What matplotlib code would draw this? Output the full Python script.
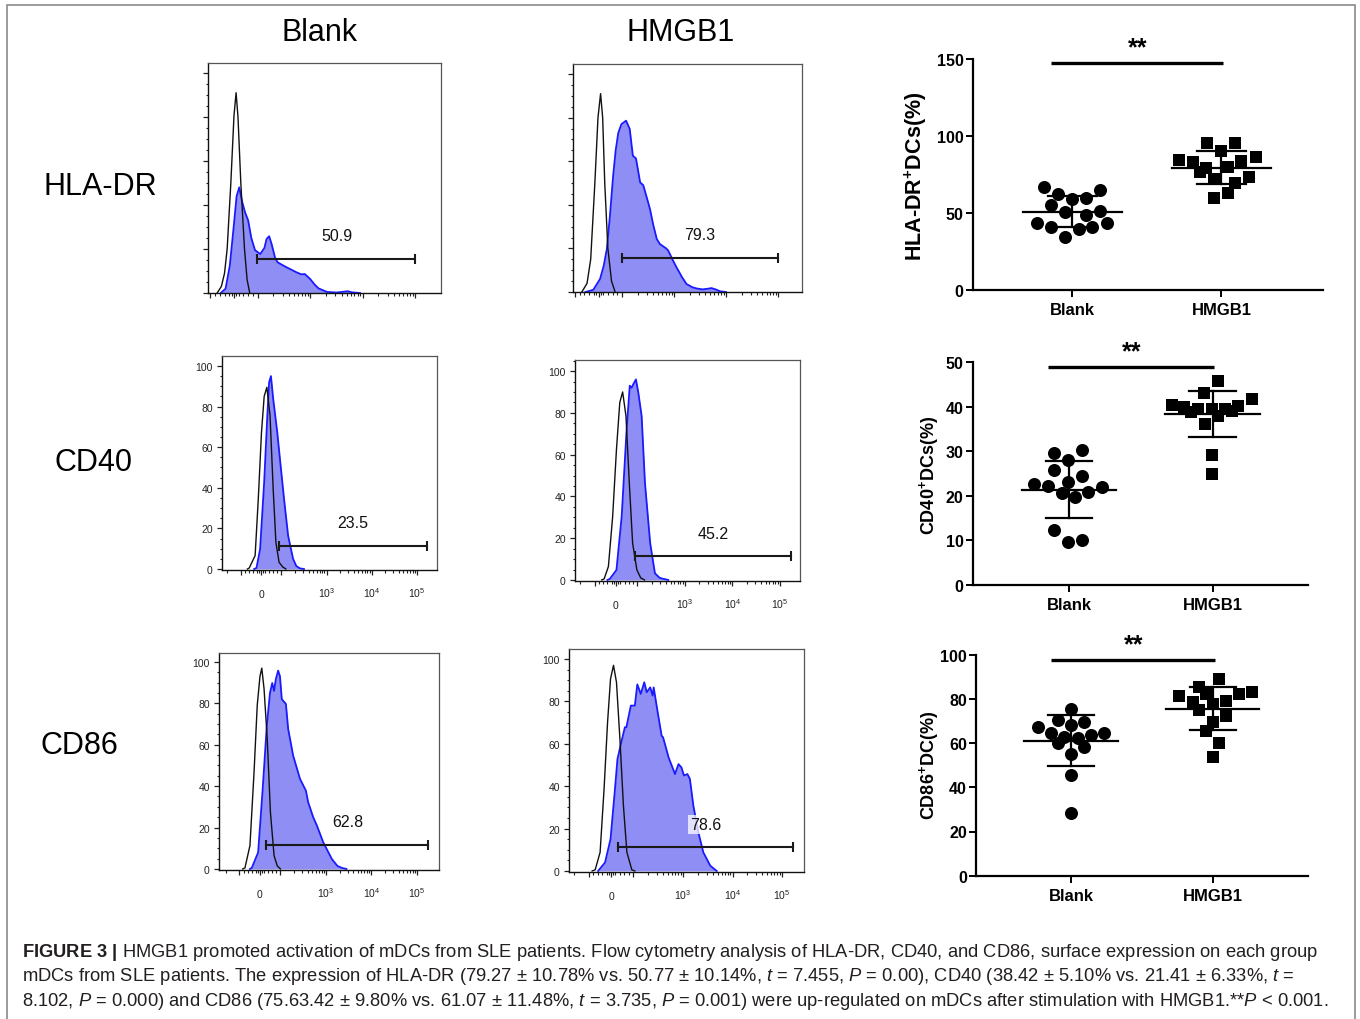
import numpy as np
import matplotlib
matplotlib.use("Agg")
import matplotlib.pyplot as plt
from matplotlib.patches import Rectangle
from matplotlib.transforms import offset_copy

plt.rcParams['font.family'] = ['Liberation Sans', 'DejaVu Sans']
plt.rcParams['mathtext.fontset'] = 'custom'
plt.rcParams['mathtext.rm'] = 'Liberation Sans'
plt.rcParams['mathtext.it'] = 'Liberation Sans:italic'
plt.rcParams['mathtext.bf'] = 'Liberation Sans:bold'

# ---------------- data: flow cytometry histograms (display channel u, % of max) -------------
# HLA-DR
hla_blank_iso_u = [-0.32, -0.24, -0.18, -0.13, -0.06, 0.0, 0.04, 0.076, 0.13, 0.2, 0.25, 0.3]
hla_blank_iso_y = [0, 3, 9, 20, 50, 80.6, 91, 80, 50, 20, 6, 0]
hla_blank_st_u = [-0.25, -0.16, -0.08, -0.01, 0.05, 0.10, 0.15, 0.21, 0.27, 0.33, 0.40, 0.50,
                  0.58, 0.62, 0.67, 0.72, 0.78, 0.83, 0.9, 1.0, 1.1, 1.19, 1.28, 1.35, 1.40, 1.45,
                  1.53, 1.61, 1.77, 1.95, 2.1, 2.17, 2.25, 2.4]
hla_blank_st_y = [0, 2, 12.4, 29, 44, 48, 42, 36.7, 33, 25, 19.5, 17.7,
                  20.5, 24.5, 25.8, 22, 16.2, 14, 13, 11.7, 10.5, 9.4, 8.5, 8.6, 7.5, 6.4,
                  4, 2.1, 0.5, 0.2, 0.6, 0.8, 0.3, 0]
hla_hmgb_iso_u = [-0.32, -0.22, -0.15, -0.07, -0.01, 0.04, 0.08, 0.12, 0.18, 0.25, 0.32]
hla_hmgb_iso_y = [0, 4, 15, 50, 80, 91, 80, 50, 20, 5, 0]
hla_hmgb_st_u = [-0.25, -0.1, 0.03, 0.1, 0.16, 0.22, 0.28, 0.33, 0.38, 0.44, 0.53, 0.60, 0.66,
                 0.72, 0.80, 0.86, 0.92, 0.99, 1.05, 1.12, 1.18, 1.24, 1.30, 1.34, 1.42, 1.50,
                 1.60, 1.69, 1.80, 1.89, 2.0, 2.1, 2.17, 2.25, 2.34, 2.45]
hla_hmgb_st_y = [0, 1, 6, 12, 19.7, 35, 53, 65, 73, 77, 78.6, 74.8, 62.5,
                 61.3, 50.3, 49, 44, 38, 31, 24.3, 22, 21, 20, 19, 15, 11.3,
                 7, 3.7, 2.2, 1.6, 1.2, 1.5, 1.8, 1.2, 0.3, 0]
# CD40
cd40_blank_iso_u = [-0.30, -0.26, -0.13, -0.06, 0.01, 0.07, 0.13, 0.20, 0.27, 0.33, 0.40, 0.48, 0.55]
cd40_blank_iso_y = [0, 0.5, 6.6, 34.5, 67, 85, 89.5, 75.5, 39, 13, 3.3, 1, 0]
cd40_blank_st_u = [-0.15, -0.1, -0.02, 0.07, 0.14, 0.18, 0.22, 0.27, 0.36, 0.42, 0.51, 0.60,
                   0.71, 0.78, 0.86, 0.95]
cd40_blank_st_y = [0, 0.5, 9.8, 42.7, 75.5, 92, 95, 83.7, 67.3, 54, 34.5, 16.4, 5, 1.5, 0.3, 0]
cd40_hmgb_iso_u = [-0.30, -0.25, -0.16, -0.07, 0.01, 0.08, 0.14, 0.21, 0.28, 0.35, 0.44, 0.52, 0.60]
cd40_hmgb_iso_y = [0, 0.5, 6.4, 30.4, 62.5, 85, 90, 78.5, 46.5, 17.6, 4.8, 1, 0]
cd40_hmgb_st_u = [-0.18, -0.13, 0.01, 0.12, 0.22, 0.29, 0.33, 0.36, 0.42, 0.47, 0.54, 0.61,
                  0.72, 0.82, 0.92, 1.0, 1.1]
cd40_hmgb_st_y = [0, 0.5, 4.8, 30.4, 70.5, 93, 92, 93.5, 96, 89.7, 78.5, 46.5, 17.6, 3.2, 1, 0.5, 0]
# CD86
cd86_blank_iso_u = [-0.38, -0.33, -0.22, -0.13, -0.06, 0.0, 0.04, 0.09, 0.16, 0.23, 0.31, 0.38, 0.45]
cd86_blank_iso_y = [0, 0.5, 11.3, 46.7, 79, 93, 97, 87, 62.8, 27.4, 6.4, 1.5, 0]
cd86_blank_st_u = [-0.22, -0.18, -0.04, 0.06, 0.15, 0.22, 0.27, 0.31, 0.35, 0.40, 0.44, 0.48,
                   0.57, 0.62, 0.73, 0.88, 1.01, 1.06, 1.17, 1.25, 1.39, 1.58, 1.70, 1.80, 1.9]
cd86_blank_st_y = [0, 0.5, 8, 38.6, 69, 85, 89.8, 86, 91.8, 95.8, 93, 82,
                   79.7, 67.6, 54.7, 43.5, 37.8, 32.2, 25, 21, 12.9, 4.8, 1.5, 0.5, 0]
cd86_hmgb_iso_u = [-0.38, -0.32, -0.22, -0.14, -0.07, -0.01, 0.05, 0.11, 0.18, 0.25, 0.32, 0.42, 0.48]
cd86_hmgb_iso_y = [0, 0.5, 8.8, 38.7, 70, 90.6, 97, 89, 62, 30.8, 8.8, 0.5, 0]
cd86_hmgb_st_u = [-0.26, -0.12, -0.01, 0.08, 0.13, 0.22, 0.28, 0.31, 0.40, 0.48, 0.53, 0.60,
                  0.67, 0.72, 0.79, 0.84, 0.86, 0.93, 1.02, 1.05, 1.16, 1.29, 1.36, 1.42,
                  1.47, 1.54, 1.59, 1.66, 1.76, 1.86, 2.0, 2.13]
cd86_hmgb_st_y = [0, 4, 15, 38.7, 52.8, 62, 67.8, 67.8, 78, 78, 88, 83.5,
                  89, 84.3, 86.6, 82.7, 86.6, 76.4, 63.8, 63, 53.6, 45.7, 50.4, 48.8,
                  45, 45.7, 43.4, 30.8, 18.3, 8.8, 2.5, 0]

# gates: start u, end u, height, label, label u, label height
hla_blank_gate = (0.44, 3.45, 15.5, "50.9", 1.96, 26.0)
hla_hmgb_gate = (0.45, 3.45, 15.5, "79.3", 1.95, 26.6)
cd40_blank_gate = (0.40, 3.67, 11.5, "23.5", 2.04, 22.7)
cd40_hmgb_gate = (0.40, 3.68, 11.5, "45.2", 2.05, 22.4)
cd86_blank_gate = (0.13, 3.70, 11.7, "62.8", 1.92, 22.8)
cd86_hmgb_gate = (0.15, 3.66, 11.5, "78.6", 1.90, 22.0)

x_major_vals = [-100, 0, 100, 1e3, 1e4, 1e5]
x_major_labels = ['', '0', '', '$10^3$', '$10^4$', '$10^5$']
y_hist_ticks = [0, 20, 40, 60, 80, 100]

# ---------------- data: dot plots -------------
groups = ['Blank', 'HMGB1']
hla_blank_x = [0.807, 1.183, 0.903, 1.0, 1.094, 0.859, 1.183, 0.948, 1.094, 0.765, 1.232, 0.859, 1.044, 1.134, 0.953]
hla_blank_v = [66.6, 65.0, 62.2, 59.0, 59.4, 55.0, 51.4, 50.3, 48.8, 43.2, 43.2, 40.6, 39.5, 41.0, 34.5]
hla_hmgb_x = [1.903, 2.089, 1.995, 1.715, 1.81, 2.134, 2.23, 1.899, 2.044, 1.854, 1.948, 2.185, 2.089, 2.044, 1.948]
hla_hmgb_v = [95.4, 95.4, 90.4, 84.3, 82.8, 83.9, 86.1, 78.9, 79.6, 76.3, 72.0, 73.1, 69.2, 62.7, 59.4]
cd40_blank_x = [0.898, 1.088, 0.995, 0.898, 1.088, 0.758, 0.856, 0.995, 1.227, 0.949, 1.134, 1.042, 0.898, 0.995, 1.088]
cd40_blank_v = [29.6, 30.2, 28.1, 25.8, 24.4, 22.7, 22.2, 23.1, 22.1, 20.7, 20.8, 19.8, 12.4, 9.7, 10.2]
cd40_hmgb_x = [2.039, 1.942, 2.271, 1.715, 1.802, 1.9, 1.849, 1.993, 2.086, 2.178, 2.039, 2.132, 1.946, 1.993, 1.993]
cd40_hmgb_v = [45.7, 43.1, 41.8, 40.4, 39.9, 39.5, 38.9, 39.5, 39.5, 40.3, 38.0, 39.1, 36.2, 29.2, 24.9]
cd86_blank_x = [1.0, 0.906, 1.094, 0.769, 1.0, 0.859, 1.235, 0.953, 1.047, 1.141, 0.906, 1.094, 1.0, 1.0, 1.0]
cd86_blank_v = [75.4, 70.6, 69.4, 67.4, 68.3, 64.6, 64.6, 62.9, 62.3, 63.7, 59.9, 58.1, 55.1, 45.7, 28.2]
cd86_hmgb_x = [2.047, 1.906, 1.765, 1.951, 2.188, 2.28, 1.859, 2.094, 2.0, 1.906, 2.094, 2.0, 1.953, 2.047, 2.0]
cd86_hmgb_v = [89.0, 85.2, 81.4, 82.2, 82.1, 83.3, 78.7, 79.2, 77.7, 75.0, 72.1, 69.4, 65.3, 60.0, 53.9]

hla_mean = [50.77, 79.27]; hla_sd = [10.14, 10.78]
cd40_mean = [21.41, 38.42]; cd40_sd = [6.33, 5.10]
cd86_mean = [61.07, 75.63]; cd86_sd = [11.48, 9.80]

hla_yticks = [0, 50, 100, 150]
cd40_yticks = [0, 10, 20, 30, 40, 50]
cd86_yticks = [0, 20, 40, 60, 80, 100]
hla_sig = (0.859, 2.01, 147.4, 1.44)
cd40_sig = (0.856, 2.009, 49.0, 1.437)
cd86_sig = (0.859, 2.016, 97.7, 1.44)

# ---------------- figure -------------
W, H = 1360, 1020
fig = plt.figure(figsize=(W / 100, H / 100), dpi=100)
fig.patch.set_facecolor('white')


def box(l, t, r, b):
    return [l / W, 1 - b / H, (r - l) / W, (b - t) / H]


LIN, DEC0 = 100.0, 0.45


def biex(v):
    v = np.asarray(v, float)
    a = np.abs(v)
    logpart = np.sign(v) * (DEC0 + np.log10(np.maximum(a, 1e-9) / LIN))
    return np.where(a <= LIN, DEC0 * v / LIN, logpart)


minor_vals = [-300, -200, -80, -60, -40, -20, -10, 10, 20, 40, 60, 80] + \
             [k * 10 ** d for d in (2, 3, 4) for k in range(2, 10)]

FILL = '#8e8ef4'
BLUE = '#1a1aff'


def hist_panel(pos, xlim, ylim, iso_u, iso_y, st_u, st_y, gate, labels, white_bg=False):
    ax = fig.add_axes(box(*pos))
    ax.fill_between(st_u, st_y, 0, color=FILL, lw=0, zorder=1)
    ax.plot(st_u, st_y, color=BLUE, lw=1.3, zorder=2)
    ax.plot(iso_u, iso_y, color='#111111', lw=1.0, zorder=3)
    g0, g1, gy, txt, tx, ty = gate
    ax.plot([g0, g1], [gy, gy], color='#1a1a1a', lw=1.5, zorder=4)
    ax.plot([g0, g1], [gy, gy], ls='none', marker='|', ms=7, mew=1.5, color='#1a1a1a', zorder=4)
    kw = {}
    if white_bg:
        kw['bbox'] = dict(facecolor='white', edgecolor='none', alpha=0.75, pad=1.5)
    ax.text(tx, ty, txt, ha='center', va='center', fontsize=11.5, color='#111111', zorder=5, **kw)
    ax.set_xticks(biex(x_major_vals))
    ax.set_xticks(biex(minor_vals), minor=True)
    ax.set_yticks(y_hist_ticks)
    ax.set_yticks(np.arange(0, 106, 5), minor=True)
    ax.set_xlim(xlim)
    ax.set_ylim(ylim)
    if labels:
        ax.set_xticklabels(x_major_labels)
        ax.set_yticklabels([str(t) for t in y_hist_ticks])
    else:
        ax.set_xticklabels([])
        ax.set_yticklabels([])
    ax.tick_params(axis='both', which='major', direction='out', length=3.6, width=0.9,
                   labelsize=7.5, colors='#222222')
    ax.tick_params(axis='both', which='minor', direction='out', length=1.8, width=0.8,
                   colors='#222222')
    ax.tick_params(axis='y', which='major', pad=3)
    ax.tick_params(axis='x', which='major', pad=(27 - 5) / 1.389)
    for lab in ax.get_xticklabels():
        lab.set_verticalalignment('baseline')
    for s in ('top', 'right'):
        ax.spines[s].set_color('#555555')
        ax.spines[s].set_linewidth(0.9)
    for s in ('left', 'bottom'):
        ax.spines[s].set_color('#111111')
        ax.spines[s].set_linewidth(1.0)
    return ax


hist_panel((208, 64, 441, 294), (-0.495, 3.943), (0, 104.5),
           hla_blank_iso_u, hla_blank_iso_y, hla_blank_st_u, hla_blank_st_y, hla_blank_gate, False)
hist_panel((573, 65, 802, 293), (-0.49, 3.91), (0, 104.6),
           hla_hmgb_iso_u, hla_hmgb_iso_y, hla_hmgb_st_u, hla_hmgb_st_y, hla_hmgb_gate, False)
hist_panel((222, 357, 437, 571), (-0.863, 3.894), (-0.5, 104.9),
           cd40_blank_iso_u, cd40_blank_iso_y, cd40_blank_st_u, cd40_blank_st_y, cd40_blank_gate, True)
hist_panel((575, 361, 800, 582), (-0.863, 3.874), (-0.5, 105.3),
           cd40_hmgb_iso_u, cd40_hmgb_iso_y, cd40_hmgb_st_u, cd40_hmgb_st_y, cd40_hmgb_gate, True)
hist_panel((219, 654, 439, 871), (-0.90, 3.934), (-0.5, 104.3),
           cd86_blank_iso_u, cd86_blank_iso_y, cd86_blank_st_u, cd86_blank_st_y, cd86_blank_gate, True)
hist_panel((569, 650, 804, 873), (-0.847, 3.89), (-0.5, 104.7),
           cd86_hmgb_iso_u, cd86_hmgb_iso_y, cd86_hmgb_st_u, cd86_hmgb_st_y, cd86_hmgb_gate, True,
           white_bg=True)


def dot_panel(pos, xlim, ymax, yticks, bx, bv, hx, hv, means, sds, sig):
    ax = fig.add_axes(box(*pos))
    ax.scatter(bx, bv, marker='o', s=88, color='black', linewidths=0, zorder=3, clip_on=False)
    ax.scatter(hx, hv, marker='s', s=78, color='black', linewidths=0, zorder=3, clip_on=False)
    for cat, m, sd in zip((1, 2), means, sds):
        ax.plot([cat - 0.33, cat + 0.33], [m, m], color='black', lw=1.6, zorder=4)
        ax.plot([cat - 0.162, cat + 0.162], [m + sd, m + sd], color='black', lw=1.6, zorder=4)
        ax.plot([cat - 0.162, cat + 0.162], [m - sd, m - sd], color='black', lw=1.6, zorder=4)
        ax.plot([cat, cat], [m - sd, m + sd], color='black', lw=1.6, zorder=4)
    x0, x1, sy, sx = sig
    ax.plot([x0, x1], [sy, sy], color='black', lw=2.4, clip_on=False, solid_capstyle='butt')
    star_tr = offset_copy(ax.transData, fig=fig, x=0, y=6, units='points')
    ax.text(sx, sy, '**', ha='center', va='baseline', fontsize=18, fontweight='bold',
            clip_on=False, transform=star_tr)
    ax.set_xlim(xlim)
    ax.set_ylim(0, ymax)
    ax.set_xticks([1, 2])
    ax.set_xticklabels(groups, fontweight='bold', fontsize=12)
    ax.set_yticks(yticks)
    ax.set_yticklabels([str(t) for t in yticks], fontweight='bold', fontsize=11.5)
    ax.tick_params(axis='both', direction='out', length=5, width=1.4)
    ax.tick_params(axis='y', pad=1.5)
    ax.tick_params(axis='x', pad=3.5)
    for s in ('top', 'right'):
        ax.spines[s].set_visible(False)
    for s in ('left', 'bottom'):
        ax.spines[s].set_linewidth(1.6)
    return ax


dot_panel((972.7, 60, 1322.7, 290.7), (0.33, 2.68), 150, hla_yticks,
          hla_blank_x, hla_blank_v, hla_hmgb_x, hla_hmgb_v, hla_mean, hla_sd, hla_sig)
dot_panel((972.7, 363.3, 1308.3, 586), (0.33, 2.665), 50, cd40_yticks,
          cd40_blank_x, cd40_blank_v, cd40_hmgb_x, cd40_hmgb_v, cd40_mean, cd40_sd, cd40_sig)
dot_panel((976, 655.7, 1308.3, 876.7), (0.33, 2.675), 100, cd86_yticks,
          cd86_blank_x, cd86_blank_v, cd86_hmgb_x, cd86_hmgb_v, cd86_mean, cd86_sd, cd86_sig)

# y-axis titles of dot plots
fig.text(916 / W, 1 - 176 / H, 'HLA-DR$^{\\mathbf{+}}$DCs(%)', rotation=90, ha='center', va='center',
         fontsize=15.5, fontweight='bold')
fig.text(929 / W, 1 - 475 / H, 'CD40$^{\\mathbf{+}}$DCs(%)', rotation=90, ha='center', va='center',
         fontsize=13, fontweight='bold')
fig.text(929 / W, 1 - 765 / H, 'CD86$^{\\mathbf{+}}$DC(%)', rotation=90, ha='center', va='center',
         fontsize=13, fontweight='bold')

# column and row titles
fig.text(320 / W, 1 - 33 / H, 'Blank', ha='center', va='center', fontsize=22)
fig.text(681 / W, 1 - 33 / H, 'HMGB1', ha='center', va='center', fontsize=22)
fig.text(43 / W, 1 - 187 / H, 'HLA-DR', ha='left', va='center', fontsize=22)
fig.text(55 / W, 1 - 463 / H, 'CD40', ha='left', va='center', fontsize=22)
fig.text(40 / W, 1 - 746 / H, 'CD86', ha='left', va='center', fontsize=22)

# caption
L1 = r"$\mathbf{FIGURE\ 3\ |}$ HMGB1 promoted activation of mDCs from SLE patients. Flow cytometry analysis of HLA-DR, CD40, and CD86, surface expression on each group"
L2 = r"mDCs from SLE patients. The expression of HLA-DR (79.27 ± 10.78% vs. 50.77 ± 10.14%, $\mathit{t}$ = 7.455, $\mathit{P}$ = 0.00), CD40 (38.42 ± 5.10% vs. 21.41 ± 6.33%, $\mathit{t}$ ="
L3 = r"8.102, $\mathit{P}$ = 0.000) and CD86 (75.63.42 ± 9.80% vs. 61.07 ± 11.48%, $\mathit{t}$ = 3.735, $\mathit{P}$ = 0.001) were up-regulated on mDCs after stimulation with HMGB1.**$\mathit{P}$ < 0.001."
caps = []
for txt, yb in ((L1, 957), (L2, 981.5), (L3, 1006)):
    caps.append(fig.text(22 / W, 1 - yb / H, txt, ha='left', va='baseline', fontsize=13.5,
                         color='#231f20'))
fig.canvas.draw()
r = fig.canvas.get_renderer()
w1 = caps[0].get_window_extent(r).width
w3 = caps[2].get_window_extent(r).width
fs = 13.5 * (1278.0 + 1318.0) / (w1 + w3)
for c in caps:
    c.set_fontsize(fs)

# outer frame
fig.add_artist(Rectangle((7 / W, -0.02), (1355 - 7) / W, 1.02 - 6 / H, transform=fig.transFigure,
                         fill=False, edgecolor='#8a8a8a', lw=1.2))

fig.savefig('out.png', dpi=100)
